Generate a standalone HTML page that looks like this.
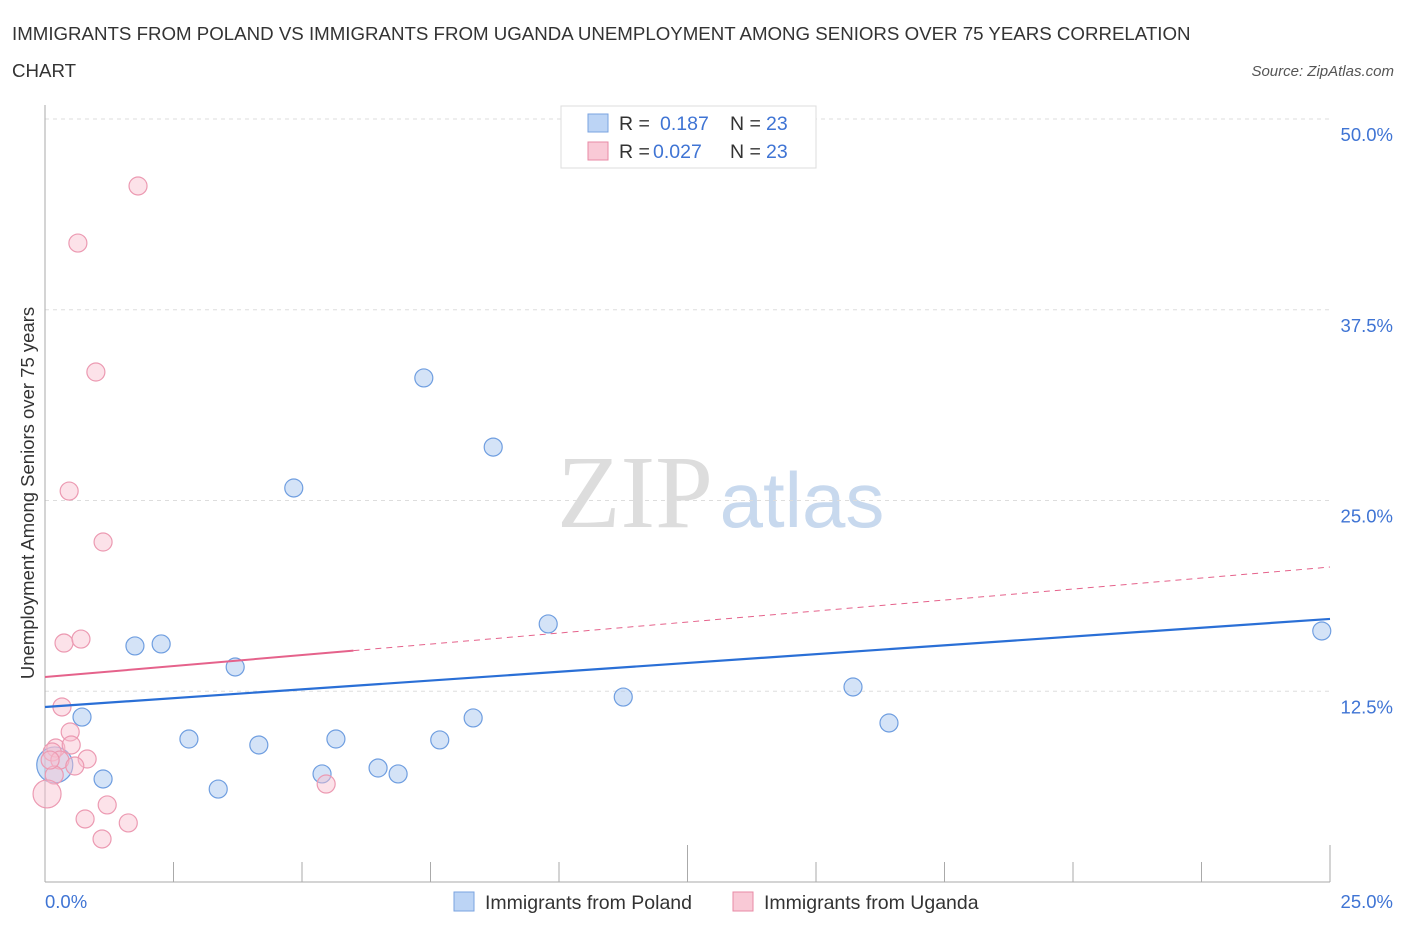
<!DOCTYPE html>
<html><head><meta charset="utf-8"><style>
body{margin:0;background:#fff;font-family:"Liberation Sans",sans-serif;}
svg{display:block}
</style></head><body>
<svg id="c" width="1406" height="930">
<text x="12" y="40" font-size="18.7" fill="#333">IMMIGRANTS FROM POLAND VS IMMIGRANTS FROM UGANDA UNEMPLOYMENT AMONG SENIORS OVER 75 YEARS CORRELATION</text>
<text x="12" y="77" font-size="18.7" fill="#333">CHART</text>
<text x="1394" y="76" font-size="15" fill="#555" font-style="italic" text-anchor="end">Source: ZipAtlas.com</text>
<text x="635" y="527" font-size="104" fill="#ddd" font-family="Liberation Serif,serif" text-anchor="middle">ZIP</text>
<text x="802" y="527" font-size="78" fill="#c8d9ee" text-anchor="middle">atlas</text>
<text transform="translate(34,493) rotate(-90)" font-size="18.5" fill="#333" text-anchor="middle">Unemployment Among Seniors over 75 years</text>
<g id="grid"></g><g id="marks"></g>
<g>
<rect x="561" y="106" width="255" height="62" fill="#fff" stroke="#ddd"/>
<rect x="588" y="114" width="20" height="18" fill="#bcd4f5" stroke="#7aa3e0"/>
<text x="619" y="130" font-size="19.5" fill="#333">R =</text><text x="660" y="130" font-size="19.5" fill="#3f74d4">0.187</text>
<text x="730" y="130" font-size="19.5" fill="#333">N =</text><text x="766" y="130" font-size="19.5" fill="#3f74d4">23</text>
<rect x="588" y="142" width="20" height="18" fill="#f9c9d6" stroke="#e88aa5"/>
<text x="619" y="158" font-size="19.5" fill="#333">R =</text><text x="653" y="158" font-size="19.5" fill="#3f74d4">0.027</text>
<text x="730" y="158" font-size="19.5" fill="#333">N =</text><text x="766" y="158" font-size="19.5" fill="#3f74d4">23</text>
</g>
<g>
<rect x="454" y="892" width="20" height="19" fill="#bcd4f5" stroke="#7aa3e0"/>
<text x="485" y="909" font-size="19.5" fill="#333">Immigrants from Poland</text>
<rect x="733" y="892" width="20" height="19" fill="#f9c9d6" stroke="#e88aa5"/>
<text x="764" y="909" font-size="19.5" fill="#333">Immigrants from Uganda</text>
</g>
</svg>
<script>
const yTicks=[12.5,25,37.5,50];
const yTickLabels=["12.5%","25.0%","37.5%","50.0%"];
const polandX=[7.37,8.72,4.84,9.79,1.75,2.26,3.70,0.72,8.33,11.25,15.72,16.42,24.84,2.80,4.16,5.66,7.68,1.13,3.37,5.39,6.48,6.87,0.19];
const polandY=[33.03,28.5,25.82,16.91,15.47,15.6,14.09,10.81,10.75,12.12,12.78,10.42,16.45,9.37,8.98,9.37,9.31,6.75,6.09,7.08,7.47,7.08,7.67];
const ugandaX=[1.81,0.64,0.99,0.47,1.13,0.37,0.70,0.33,0.49,0.21,0.51,0.14,0.82,0.29,0.58,0.18,0.04,1.21,0.78,1.62,1.11,5.47,0.10];
const ugandaY=[45.61,41.87,33.42,25.62,22.28,15.66,15.92,11.47,9.83,8.78,8.98,8.52,8.06,7.99,7.60,7.01,5.77,5.05,4.13,3.87,2.82,6.42,7.99];
const polandTrend=[11.47,17.24];
const ugandaTrend=[13.43,20.64];
const NS="http://www.w3.org/2000/svg";
const X=v=>45+v/25*1285, Y=v=>882-v/50*763;
function mk(t,a,p){const e=document.createElementNS(NS,t);for(const k in a)e.setAttribute(k,a[k]);p.appendChild(e);return e;}
const g=document.getElementById('grid'),m=document.getElementById('marks');
yTicks.forEach((t,i)=>{
 const l=mk('line',{x1:45,x2:1330,y1:Y(t),y2:Y(t),stroke:'#ddd','stroke-dasharray':'4,4'},g);
 
 
 const tx=mk('text',{x:1393,y:Y(t)+22,'font-size':18.5,fill:'#3f74d4','text-anchor':'end'},g);
 tx.textContent=yTickLabels[i];
 
 
});
mk('line',{x1:45,x2:45,y1:105,y2:882,stroke:'#aaa'},g);
mk('line',{x1:45,x2:1330,y1:882,y2:882,stroke:'#aaa'},g);
for(let i=0;i<=10;i++){const x=45+i*128.5;mk('line',{x1:x,x2:x,y1:i%5==0?845:862,y2:882,stroke:'#aaa'},g);}
const xl=mk('text',{x:45,y:908,'font-size':18.5,fill:'#3f74d4'},g);xl.textContent='0.0%';


const xr=mk('text',{x:1393,y:908,'font-size':18.5,fill:'#3f74d4','text-anchor':'end'},g);xr.textContent='25.0%';


polandX.forEach((v,i)=>{const big=i==polandX.length-1;
 const c=mk('circle',{cx:X(v),cy:Y(polandY[i]),r:big?18:9,fill:'rgba(170,200,240,0.5)',stroke:'#6f9ee0','stroke-width':1.2},m);
 
 });
ugandaX.forEach((v,i)=>{const big=i==16;
 const c=mk('circle',{cx:X(v),cy:Y(ugandaY[i]),r:big?14:9,fill:'rgba(248,190,206,0.45)',stroke:'#ec9ab2','stroke-width':1.2},m);
 
 });
const u=v=>ugandaTrend[0]+(ugandaTrend[1]-ugandaTrend[0])*v/25;
let t1=mk('line',{x1:X(0),y1:Y(u(0)),x2:X(6),y2:Y(u(6)),stroke:'#e5628b','stroke-width':2},m);


let t2=mk('line',{x1:X(6),y1:Y(u(6)),x2:X(25),y2:Y(u(25)),stroke:'#e5628b','stroke-width':1,'stroke-dasharray':'6,5'},m);


let t3=mk('line',{x1:X(0),y1:Y(polandTrend[0]),x2:X(25),y2:Y(polandTrend[1]),stroke:'#2a6fd6','stroke-width':2.2},m);


</script>
</body></html>
